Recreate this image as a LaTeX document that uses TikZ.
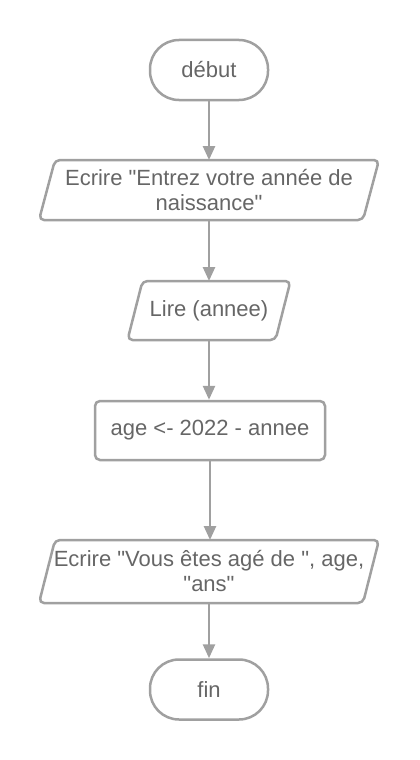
\documentclass[tikz,border=0pt]{standalone}
\usepackage{fontspec}
\setmainfont{Liberation Sans}
\usetikzlibrary{arrows.meta,calc}
\definecolor{ln}{HTML}{A0A0A0}
\definecolor{tx}{HTML}{666666}
\font\qfont="Liberation Sans" at 22pt
\newcommand{\dq}{{\qfont\symbol{34}}}
\begin{document}
\begin{tikzpicture}[x=1pt,y=-1pt,
 every node/.style={text=tx, font=\fontsize{22}{25}\selectfont, align=center},
 term/.style={draw=ln, line width=2.5pt, rounded corners=29pt, minimum width=118pt, minimum height=60pt, inner sep=0pt},
 proc/.style={draw=ln, line width=2.5pt, rounded corners=5pt, minimum width=230pt, minimum height=59pt, inner sep=0pt},
 io/.style={inner sep=0pt, outer sep=0pt},
 para/.style={draw=ln, line width=2.5pt, rounded corners=5pt, line join=round},
 arr/.style={draw=ln, line width=2.5pt, -{Triangle[length=14pt,width=12pt]}}]
\useasboundingbox (0,0) rectangle (420,760);
\fill[white] (0,0) rectangle (420,760);

\node[term] (deb) at (209,70) {début};

\node[io, minimum width=324pt, minimum height=60pt] (w1) at (209,190) {Ecrire \dq Entrez votre année de\\naissance\dq};
\draw[para] ($(w1.north west)+(8,0)$) -- ($(w1.north east)+(8,0)$) -- ($(w1.south east)+(-8,0)$) -- ($(w1.south west)+(-8,0)$) -- cycle;

\node[io, minimum width=148pt, minimum height=59pt] (rd) at (209,310.5) {Lire (annee)};
\draw[para] ($(rd.north west)+(7.5,0)$) -- ($(rd.north east)+(7.5,0)$) -- ($(rd.south east)+(-7.5,0)$) -- ($(rd.south west)+(-7.5,0)$) -- cycle;

\node[proc] (calc) at (210,430.5) {age <- 2022 - annee};

\node[io, minimum width=324pt, minimum height=63pt] (w2) at (209,571.5) {Ecrire \dq Vous êtes agé de \dq, age,\\\dq ans\dq};
\draw[para] ($(w2.north west)+(8,0)$) -- ($(w2.north east)+(8,0)$) -- ($(w2.south east)+(-8,0)$) -- ($(w2.south west)+(-8,0)$) -- cycle;

\node[term] (fin) at (209,689.5) {fin};

\draw[arr] (deb) -- (w1);
\draw[arr] (w1) -- (rd);
\draw[arr] (rd) -- (rd.center |- calc.north);
\draw[arr] (calc) -- (calc.center |- w2.north);
\draw[arr] (w2) -- (fin);
\end{tikzpicture}
\end{document}
